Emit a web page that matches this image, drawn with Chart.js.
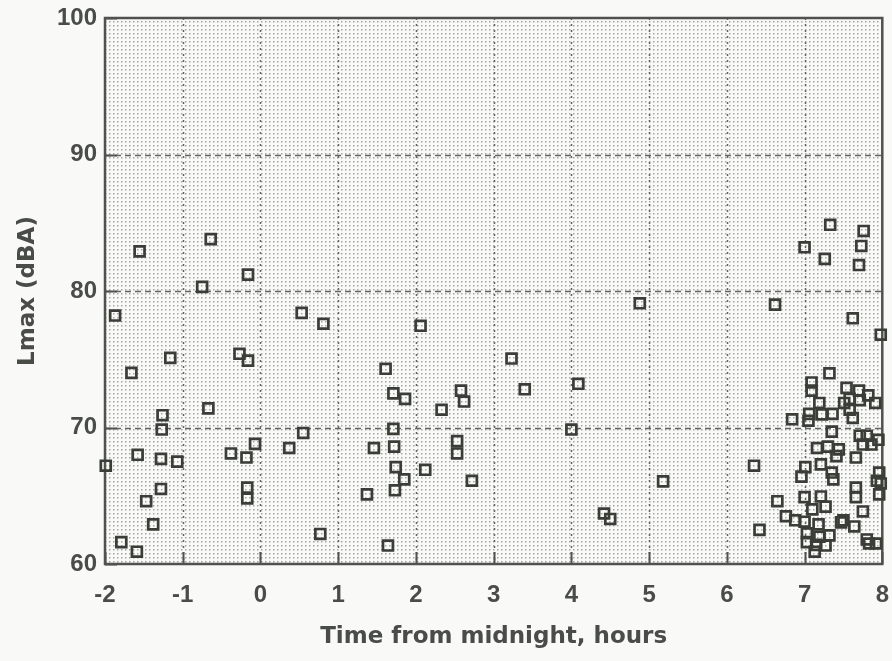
<!DOCTYPE html>
<html>
<head>
<meta charset="utf-8">
<script src="https://cdn.jsdelivr.net/npm/chart.js@4.4.0/dist/chart.umd.min.js"></script>
<style>
  html, body { margin: 0; padding: 0; background: #f9f9f7; }
  #c { display: block; }
</style>
</head>
<body>
<canvas id="c" width="892" height="661"></canvas>
<script>
// ---- Data ----
const timeHours = [
  -1.99, -1.87, -1.79, -1.66, -1.59, -1.58, -1.555, -1.47, -1.38, -1.28,
  -1.28, -1.27, -1.26, -1.16, -1.07, -0.75, -0.67, -0.64, -0.38, -0.27,
  -0.18, -0.17, -0.17, -0.16, -0.16, -0.07, 0.37, 0.53, 0.55, 0.77,
  0.81, 1.37, 1.46, 1.61, 1.64, 1.71, 1.71, 1.72, 1.74, 1.73,
  1.85, 1.86, 2.06, 2.12, 2.33, 2.53, 2.53, 2.58, 2.62, 2.72,
  3.23, 3.40, 4.00, 4.09, 4.42, 4.50, 4.88, 5.18,
  6.35, 6.42, 6.62, 6.65, 6.76, 6.84, 6.88, 6.96, 7.00, 7.00,
  7.00, 7.01, 7.03, 7.03, 7.05, 7.06, 7.09, 7.09, 7.10, 7.13,
  7.15, 7.16, 7.18, 7.19, 7.19, 7.21, 7.21, 7.22, 7.26, 7.27,
  7.27, 7.30, 7.32, 7.32, 7.33, 7.35, 7.35, 7.36, 7.37, 7.41,
  7.44, 7.47, 7.50, 7.51, 7.54, 7.58, 7.58, 7.62, 7.62, 7.64,
  7.66, 7.66, 7.66, 7.70, 7.70, 7.71, 7.71, 7.73, 7.75, 7.75,
  7.76, 7.80, 7.80, 7.82, 7.83, 7.86, 7.91, 7.92, 7.93, 7.95,
  7.96, 7.96, 7.98, 7.98
];
const lmaxDBA = [
  67.2, 78.2, 61.6, 74.0, 60.9, 68.0, 82.9, 64.6, 62.9, 65.5,
  67.7, 69.85, 70.9, 75.1, 67.5, 80.3, 71.4, 83.8, 68.1, 75.4,
  67.8, 65.6, 64.8, 81.2, 74.9, 68.8, 68.5, 78.4, 69.6, 62.2,
  77.6, 65.1, 68.5, 74.3, 61.35, 72.5, 69.9, 68.6, 67.1, 65.4,
  66.2, 72.1, 77.45, 66.9, 71.3, 69.0, 68.1, 72.7, 71.9, 66.1,
  75.05, 72.8, 69.85, 73.2, 63.7, 63.3, 79.1, 66.05,
  67.2, 62.5, 79.0, 64.6, 63.5, 70.6, 63.2, 66.4, 83.2, 64.9,
  63.1, 67.1, 62.25, 61.6, 70.5, 71.0, 73.3, 72.7, 64.0, 60.9,
  61.4, 68.5, 62.9, 71.8, 62.0, 67.3, 64.95, 70.96, 82.35, 64.2,
  61.35, 68.6, 73.97, 62.1, 84.85, 69.7, 66.7, 71.0, 66.2, 67.9,
  68.4, 63.05, 63.2, 71.8, 72.9, 72.1, 71.3, 78.0, 70.7, 62.75,
  67.8, 65.6, 64.9, 81.9, 72.7, 72.0, 69.4, 83.3, 68.75, 63.85,
  84.4, 69.4, 61.8, 72.35, 61.5, 68.75, 71.8, 61.5, 66.1, 69.1,
  66.7, 65.1, 76.8, 65.9
];
const xTicks = [-2, -1, 0, 1, 2, 3, 4, 5, 6, 7, 8];
const yTicks = [60, 70, 80, 90, 100];
const xGridValues = [-1, 0, 1, 2, 3, 4, 5, 6, 7];
const yGridValues = [70, 80, 90];
const xTitle = 'Time from midnight, hours';
const yTitle = 'Lmax (dBA)';

// ---- Styling ----
const TEXT = '#4a4c48';
const FRAME = '#4f524d';
const MARK = '#3a3e37';
const BG = '#f9f9f7';

const points = timeHours.map((x, i) => ({ x: x, y: lmaxDBA[i] }));

function makeStipple(ctx) {
  const p = document.createElement('canvas');
  p.width = 4; p.height = 4;
  const pc = p.getContext('2d');
  pc.fillStyle = BG; pc.fillRect(0, 0, 4, 4);
  pc.fillStyle = '#a5a6a2'; pc.fillRect(1, 1, 1.5, 1.5);
  return ctx.createPattern(p, 'repeat');
}

const plotDecor = {
  id: 'plotDecor',
  beforeDraw(chart) {
    const ctx = chart.ctx;
    ctx.save();
    ctx.fillStyle = BG;
    ctx.fillRect(0, 0, chart.width, chart.height);
    ctx.restore();
  },
  beforeDatasetsDraw(chart) {
    const { ctx, chartArea: a, scales } = chart;
    const xs = scales.x, ys = scales.y;
    ctx.save();
    ctx.fillStyle = makeStipple(ctx);
    ctx.fillRect(a.left, a.top, a.right - a.left, a.bottom - a.top);
    // vertical grid
    ctx.strokeStyle = '#626460';
    ctx.lineWidth = 1.5;
    ctx.setLineDash([2, 4]);
    xGridValues.forEach(v => {
      const px = Math.round(xs.getPixelForValue(v)) + 0.5;
      ctx.beginPath(); ctx.moveTo(px, a.top); ctx.lineTo(px, a.bottom); ctx.stroke();
    });
    // horizontal grid
    ctx.setLineDash([6, 4]);
    yGridValues.forEach(v => {
      const py = Math.round(ys.getPixelForValue(v)) + 0.5;
      ctx.beginPath(); ctx.moveTo(a.left, py); ctx.lineTo(a.right, py); ctx.stroke();
    });
    // inner tick marks
    ctx.setLineDash([]);
    ctx.strokeStyle = FRAME;
    ctx.lineWidth = 2;
    xTicks.forEach(v => {
      const px = Math.round(xs.getPixelForValue(v)) + 0.5;
      ctx.beginPath(); ctx.moveTo(px, a.bottom); ctx.lineTo(px, a.bottom - 12); ctx.stroke();
    });
    yTicks.forEach(v => {
      const py = Math.round(ys.getPixelForValue(v)) + 0.5;
      ctx.beginPath(); ctx.moveTo(a.left, py); ctx.lineTo(a.left + 12, py); ctx.stroke();
    });
    // frame
    ctx.lineWidth = 2.5;
    ctx.strokeRect(a.left, a.top, a.right - a.left, a.bottom - a.top);
    ctx.restore();
  }
};

new Chart(document.getElementById('c'), {
  type: 'scatter',
  data: {
    datasets: [{
      data: points,
      pointStyle: 'rect',
      pointRadius: 7,
      pointHoverRadius: 7,
      borderColor: MARK,
      backgroundColor: 'rgba(0,0,0,0)',
      borderWidth: 2.7,
      clip: false
    }]
  },
  options: {
    responsive: false,
    animation: false,
    devicePixelRatio: 1,
    layout: { padding: { top: 18, right: 8, left: 0, bottom: 0 } },
    plugins: { legend: { display: false }, tooltip: { enabled: false } },
    scales: {
      x: {
        type: 'linear',
        min: -2, max: 8,
        afterBuildTicks: s => { s.ticks = xTicks.map(v => ({ value: v })); },
        ticks: {
          color: TEXT,
          font: { family: 'Liberation Sans', size: 24, weight: 'bold' },
          padding: 17,
          maxRotation: 0,
          autoSkip: false
        },
        grid: { display: false, drawTicks: false },
        border: { display: false },
        title: {
          display: true, text: xTitle, color: TEXT,
          font: { family: 'DejaVu Sans', size: 23, weight: 'bold' },
          padding: { top: 0, bottom: 10 }
        },
        afterFit: s => { s.height = 97; s.paddingLeft = 0; s.paddingRight = 0; }
      },
      y: {
        type: 'linear',
        min: 60, max: 100,
        afterBuildTicks: s => { s.ticks = yTicks.map(v => ({ value: v })); },
        ticks: {
          color: TEXT,
          font: { family: 'Liberation Sans', size: 24, weight: 'bold' },
          padding: 8,
          autoSkip: false
        },
        grid: { display: false, drawTicks: false },
        border: { display: false },
        title: {
          display: true, text: yTitle, color: TEXT,
          font: { family: 'DejaVu Sans', size: 23, weight: 'bold' },
          padding: { top: 14, bottom: 0 }
        },
        afterFit: s => { s.width = 105; s.paddingTop = 0; s.paddingBottom = 0; }
      }
    }
  },
  plugins: [plotDecor]
});
</script>
</body>
</html>
